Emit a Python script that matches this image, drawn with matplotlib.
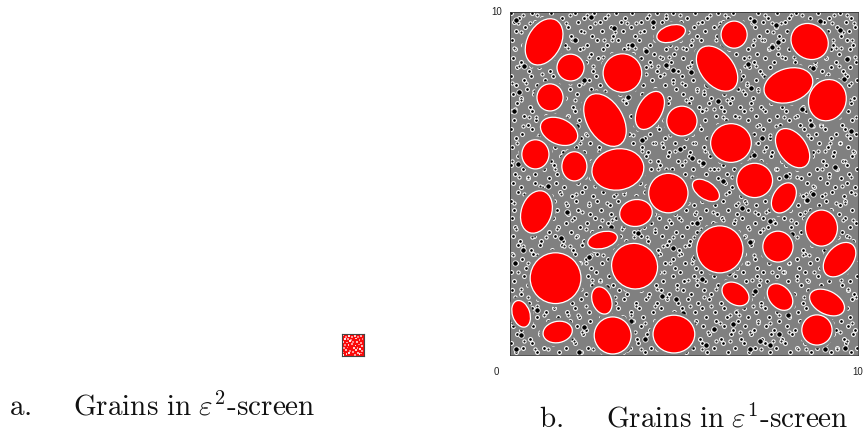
import matplotlib
matplotlib.use('Agg')
import matplotlib.pyplot as plt
from matplotlib.patches import Ellipse

plt.rcParams['mathtext.fontset'] = 'cm'

# large grains: centre x, centre y, width, height, angle
big_x = [0.98,1.74,3.23,4.63,6.44,8.61,5.95,8.00,9.12,1.15,2.73,4.02,4.94,1.41,6.35,8.12,0.73,1.85,3.10,4.55,5.63,7.03,7.87,0.76,3.62,8.95,2.66,6.03,7.70,9.47,1.31,3.58,2.64,6.48,7.76,9.11,0.32,1.37,2.95,4.71,8.82]
big_y = [9.13,8.38,8.22,9.37,9.34,9.14,8.35,7.86,7.43,7.51,6.85,7.13,6.82,6.52,6.18,6.03,5.85,5.50,5.41,4.72,4.80,5.09,4.58,4.17,4.14,3.70,3.35,3.08,3.16,2.78,2.24,2.59,1.59,1.78,1.69,1.53,1.20,0.67,0.57,0.61,0.73]
big_w = [1.44,0.78,1.11,0.85,0.75,1.12,1.50,1.44,1.22,0.75,1.67,1.20,0.87,1.13,1.17,1.28,0.78,0.72,1.50,1.13,0.88,1.03,0.95,1.27,0.94,0.92,0.87,1.33,0.87,1.15,1.46,1.30,0.82,0.85,0.87,1.08,0.80,0.85,1.06,1.20,0.87]
big_h = [0.96,0.78,1.12,0.48,0.79,1.00,0.95,0.98,1.07,0.79,1.03,0.70,0.87,0.74,1.13,0.80,0.85,0.85,1.20,1.15,0.50,1.00,0.62,0.87,0.78,1.05,0.48,1.37,0.90,0.75,1.48,1.35,0.55,0.60,0.62,0.67,0.50,0.62,1.08,1.10,0.88]
big_a = [62,0,0,18,0,-40,-52,18,70,0,-60,62,0,-25,0,-55,0,0,10,0,-35,0,60,72,10,0,15,0,0,50,0,40,-70,-35,-50,-28,-72,12,0,0,0]

# small grains, positions in hundredths of a screen unit
row_y = [996,983,970,957,944,931,918,905,892,879,866,853,840,827,814,801,788,775,762,749,736,723,710,697,684,671,658,645,632,619,606,593,580,567,554,541,528,515,502,489,476,463,450,437,424,411,398,385,372,359,346,333,320,307,294,281,268,255,242,229,216,203,190,177,164,151,138,125,112,99,86,73,60,47,34,21,8]
row_x = [
[4,63,118,187,241,306,352,421,467,533,598,641,712,768,823,884,947],
[27,92,149,214,272,331,393,448,509,566,627,689,741,802,861,918,981],
[11,71,133,196,258,318,377,436,491,552,613,668,726,789,847,903,966],
[43,104,167,229,289,347,412,473,528,587,651,704,763,821,878,941,992],
[18,81,139,204,263,324,384,441,503,561,622,679,738,796,857,915,973],
[52,113,176,236,297,359,418,479,537,596,657,716,774,833,889,952],
[6,68,127,189,249,311,371,429,488,548,609,664,729,784,846,906,968],
[36,98,158,221,279,339,401,461,519,578,639,697,752,812,871,929,987],
[14,76,142,201,268,327,389,447,507,569,628,683,744,801,864,922,976],
[47,109,171,233,292,353,414,472,534,592,649,711,769,827,884,944],
[8,66,128,193,253,314,376,437,496,554,618,672,733,791,853,909,971],
[33,94,156,217,281,342,403,463,523,583,641,701,759,818,876,936,993],
[19,83,146,207,266,329,391,451,512,571,631,688,747,806,862,921,978],
[54,116,178,239,301,362,423,482,541,602,659,719,779,838,896,956],
[3,61,124,186,247,309,368,431,493,551,612,669,731,788,849,911,969],
[39,101,163,226,286,347,408,468,527,589,647,706,766,823,882,943,996],
[16,78,137,199,259,322,382,444,504,563,624,681,741,799,859,917,974],
[49,111,173,232,294,356,417,477,536,597,654,714,772,831,891,949],
[9,69,131,192,254,316,379,438,498,557,616,676,736,793,852,913,966],
[31,96,159,219,276,337,398,458,521,579,637,699,757,814,873,934,989],
[21,86,144,209,271,332,394,453,514,573,633,692,749,808,867,926,981],
[58,119,181,241,304,364,426,486,544,606,662,722,782,841,899,958],
[5,64,126,188,251,313,373,433,491,553,614,673,734,794,851,908,971],
[41,103,166,228,288,349,411,471,531,591,646,708,768,826,886,946],
[12,74,136,197,261,319,381,442,501,561,621,684,743,803,861,919,984],
[53,114,174,237,298,358,419,478,539,599,656,716,776,834,893,953],
[2,62,122,184,246,308,369,428,489,549,609,667,728,787,846,904,963],
[34,97,157,218,278,341,402,462,522,581,642,702,761,819,878,938,994],
[17,79,141,203,264,326,387,446,506,566,626,686,746,804,864,923,977],
[46,107,169,231,293,354,416,474,533,593,652,712,771,829,888,948],
[7,67,129,191,256,317,378,439,499,558,619,678,737,797,856,914,972],
[29,91,153,214,274,336,397,457,517,576,636,696,754,813,872,931,988],
[23,84,147,211,269,333,392,454,513,574,634,691,751,811,869,927,982],
[56,117,179,243,303,363,424,484,543,604,661,721,781,839,898,957],
[4,65,125,187,248,312,372,432,494,552,611,671,732,792,848,907,967],
[38,99,161,223,284,344,406,466,526,586,644,706,764,824,883,941,997],
[13,73,134,198,257,321,383,443,502,562,623,682,739,801,858,916,975],
[51,112,172,234,296,357,421,481,538,598,658,717,773,836,892,951],
[8,71,132,194,252,315,374,436,497,556,617,677,735,795,854,912,969],
[32,93,154,216,277,338,399,459,518,577,638,698,756,816,874,933,991],
[22,82,143,206,267,328,388,449,511,568,629,687,748,809,866,924,979],
[57,118,177,238,299,361,422,483,542,601,663,723,783,842,897,959],
[3,66,127,189,249,311,371,434,492,551,613,674,733,789,851,909,964],
[42,102,164,227,287,348,409,469,529,588,648,707,767,828,887,947],
[11,72,135,196,262,323,385,445,505,564,625,685,744,805,863,922,983],
[48,108,168,229,291,352,413,473,532,594,653,713,771,832,889,945],
[6,63,123,183,244,306,367,427,487,547,608,666,727,786,844,902,962],
[37,98,162,222,283,343,404,464,524,584,643,703,762,822,881,939,995],
[15,77,138,201,258,324,386,447,508,567,627,683,742,807,865,925,976],
[53,113,175,236,297,355,418,476,537,596,655,718,775,835,894,954],
[9,68,128,192,255,316,376,437,495,555,615,675,737,794,853,911,968],
[28,89,151,213,273,334,396,456,516,575,635,694,753,812,871,932,986],
[24,87,148,208,272,331,393,452,515,572,632,693,752,811,868,928,981],
[59,121,182,242,302,366,425,485,546,603,664,724,784,843,901,961],
[5,67,126,186,251,313,373,431,491,553,612,672,731,791,849,906,971],
[35,96,159,219,282,342,403,467,525,585,645,704,763,825,882,942,993],
[16,76,139,202,263,325,384,444,503,565,622,681,743,802,862,919,974],
[46,106,167,233,292,351,415,475,534,591,651,711,772,831,891,949],
[2,61,124,185,246,309,368,429,489,548,607,669,726,788,847,905,966],
[39,101,165,224,285,346,407,468,528,587,647,709,766,826,884,943,998],
[12,74,133,197,259,319,381,441,501,559,621,679,739,798,857,916,978],
[51,111,173,235,295,356,419,479,538,599,659,715,777,837,895,955],
[7,69,129,191,253,314,377,435,498,557,618,676,735,796,855,913,972],
[31,92,155,217,276,337,398,458,519,579,639,699,758,817,875,935,989],
[19,81,145,205,268,329,391,451,511,571,631,689,749,808,867,926,983],
[55,116,178,239,301,362,423,482,541,605,661,722,781,841,899,958],
[4,64,125,188,248,311,372,433,493,552,614,673,733,792,851,908,969],
[41,103,163,226,288,349,411,471,531,589,649,708,768,828,886,946],
[14,78,137,199,261,322,383,443,504,563,624,684,744,803,861,921,977],
[47,109,171,231,294,353,416,474,535,593,654,713,773,832,891,951],
[8,66,131,193,254,317,375,438,496,556,616,674,736,795,854,912,971],
[33,95,156,218,279,341,401,461,522,582,641,701,759,819,877,937,992],
[21,85,146,209,269,332,394,454,513,573,634,692,751,809,869,927,985],
[58,119,179,241,304,364,426,486,545,606,663,723,783,843,898,959],
[3,62,123,187,247,308,369,431,492,551,611,671,732,789,849,907,965],
[36,98,161,223,283,344,405,465,527,586,646,705,764,824,883,941,996],
[17,79,141,203,265,326,387,448,507,567,627,686,746,806,864,923,979],
]

# more small grains filling the gaps, less regular than the rows above
fill_y = [992,968,941,917,894,868,843,818,792,771,744,718,693,667,642,618,594,567,543,519,493,468,442,418,393,368,344,318,293,268,243,218,192,168,143,118,93,68,42,17]
fill_x = [
[38,79,171,222,281,398,447,489,574,619,733,807,838,931,968],
[22,57,161,243,337,361,462,541,603,694,752,778,893,924,988],
[33,96,121,213,303,373,458,512,644,663,757,843,871,957],
[71,146,178,271,292,416,524,592,702,723,814,897,928,982],
[12,52,168,209,338,358,476,497,588,651,743,769,868,936,952],
[84,117,226,267,349,432,456,546,631,688,781,816,906,991],
[26,59,153,238,283,406,426,518,606,674,708,833,877,946],
[92,134,193,312,391,443,563,584,723,758,792,859,913,962],
[7,46,173,211,298,366,469,493,601,636,681,829,851,981],
[68,104,247,274,343,421,538,557,669,714,804,889,933],
[31,89,152,186,324,397,452,507,624,748,777,866,958,976],
[14,123,206,289,362,431,564,587,693,727,841,902,926],
[56,76,164,243,307,384,478,516,612,658,786,818,944,993],
[37,101,138,268,296,408,447,543,636,709,764,872,893],
[84,181,222,333,353,461,497,581,604,746,821,857,968],
[19,63,147,202,284,412,438,526,678,697,791,838,919,949],
[44,116,163,257,319,378,473,559,627,729,773,884,906,987],
[7,94,196,233,346,403,502,543,662,688,812,849,964],
[72,129,178,281,302,426,449,576,598,741,768,897,938],
[27,53,154,216,337,364,487,523,637,716,802,826,918,979],
[86,108,243,262,391,416,541,562,673,693,783,872,953],
[39,146,189,304,329,446,478,597,621,747,829,851,906,991],
[11,68,161,228,278,359,407,512,654,679,768,792,938,964],
[93,123,207,341,383,429,534,582,703,736,848,881,923],
[44,58,179,264,293,458,491,611,647,757,807,957,986],
[18,82,136,218,323,371,418,549,573,688,726,862,903],
[63,104,191,249,356,394,468,528,633,671,789,826,943,974],
[36,154,173,286,312,441,503,597,618,743,768,883,918],
[8,77,128,233,267,376,426,486,553,702,726,841,859,961],
[51,96,199,218,338,403,461,522,661,683,803,897,938,984],
[24,143,163,291,316,443,574,603,639,752,784,873,926],
[69,111,236,258,369,387,511,537,694,718,826,853,951],
[33,92,176,203,331,421,481,593,628,673,768,908,972],
[13,52,144,272,303,396,452,558,646,737,794,846,886,993],
[78,126,219,241,362,418,516,579,699,722,812,931,957],
[31,99,168,196,283,347,476,498,633,658,774,866,897],
[6,59,143,251,323,388,443,533,604,713,746,838,924,982],
[86,117,207,276,359,412,492,569,662,689,803,871,947],
[41,154,184,297,336,458,527,591,632,757,778,913,968],
[22,73,109,238,263,377,423,506,552,693,722,827,852,941],
]

# the bigger black grains
dot_x = [18,64,123,187,233,298,351,412,473,538,604,655,702,763,834,892,947,41,148,271,392,447,521,612,684,752,871,968,27,86,213,338,468,567,662,771,903,11,127,254,431,496,598,693,838,961,53,192,317,378,522,641,724,866,934,22,108,243,488,556,611,701,794,872,981,67,164,289,421,538,667,748,853,916,38,147,226,369,467,592,689,809,947,14,96,278,414,531,628,764,887,973,58,181,326,476,553,653,703,798,921,31,124,212,388,498,587,717,842,963,78,259,347,438,562,642,773,876,948,17,118,198,336,459,521,691,747,906]
dot_y = [978,931,963,919,985,954,904,972,941,887,956,918,973,962,902,975,948,843,871,852,887,846,826,903,849,897,838,864,768,781,803,752,831,786,804,912,734,712,624,681,764,716,741,779,718,806,618,668,602,628,573,657,634,672,548,558,492,534,602,561,508,583,522,468,654,392,418,372,456,386,428,391,452,401,306,341,287,355,312,378,328,354,289,268,212,198,252,286,238,211,193,271,122,174,108,163,221,144,186,118,138,58,34,82,46,122,76,42,94,21,132,64,98,172,28,91,61,38,158,18,74,9,18,28,52,18,30,18]

# speckles of the tiny copy on the left, same 0-10 screen units
spot_x = [0.6,1.9,3.1,4.4,5.8,7.2,8.7,1.2,2.6,4.0,6.5,8.0,9.3,0.5,2.2,3.5,5.1,6.9,8.5,1.4,3.0,4.7,6.1,7.6,9.2,0.9,2.5,5.5,7.0,8.3,1.8,3.8,6.3,9.0,0.7,3.3,4.9,7.4,8.8,2.0,5.9,7.9,0.4]
spot_y = [9.3,8.7,9.1,8.5,9.2,8.6,9.0,7.6,7.8,7.2,7.9,7.3,7.7,6.4,6.1,6.7,6.2,6.5,6.0,5.1,4.9,5.4,4.8,5.2,4.7,3.7,3.9,3.5,3.8,3.3,2.6,2.3,2.8,2.4,1.6,1.3,1.8,1.5,1.1,0.8,0.6,0.9,0.4]
spot_a = [0.7,0.5,0.9,0.6,0.8,0.5,0.7,0.9,0.6,0.5,0.8,0.6,0.5,0.8,0.6,0.9,0.5,0.7,0.6,0.5,0.8,0.6,0.9,0.5,0.7,0.6,0.5,0.8,0.6,0.9,0.7,0.5,0.8,0.6,0.5,0.9,0.6,0.7,0.5,0.8,0.6,0.9,1.0]

W, H = 864, 434

def px_axes(x0, y0, x1, y1):
    # axes from pixel box, y measured from the top of the picture
    return fig.add_axes([x0/W, 1-y1/H, (x1-x0)/W, (y1-y0)/H])

def flatten(ys, rows):
    xs_out = []
    ys_out = []
    for y, row in zip(ys, rows):
        for x in row:
            xs_out.append(x/100)
            ys_out.append(y/100)
    return xs_out, ys_out

fig = plt.figure(figsize=(8.64, 4.34), dpi=100)

ax = px_axes(510, 12, 858, 355)
ax.set_xlim(0, 10)
ax.set_ylim(0, 10)
ax.set_xticks([])
ax.set_yticks([])
ax.set_facecolor('#808080')
for s in ax.spines.values():
    s.set_linewidth(0.6)
    s.set_color('#333333')

xs, ys = flatten(row_y, row_x)
ax.scatter(xs, ys, s=7.5, c='black', edgecolors='white', linewidths=0.8, zorder=1)
xs, ys = flatten(fill_y, fill_x)
ax.scatter(xs, ys, s=5.5, c='#202020', edgecolors='white', linewidths=0.75, zorder=1.5)
ax.scatter([x/100 for x in dot_x], [y/100 for y in dot_y], s=15, c='black',
           edgecolors='white', linewidths=0.6, zorder=2)

for x, y, w, h, a in zip(big_x, big_y, big_w, big_h, big_a):
    # grey gap that surrounds each large grain
    ax.add_patch(Ellipse((x, y), w+0.2, h+0.2, angle=a, fc='#808080', ec='none', zorder=3))
    ax.add_patch(Ellipse((x, y), w, h, angle=a, fc='red', ec='white', lw=0.9, zorder=4))

small = px_axes(342, 334, 364, 356)
small.set_xlim(0, 10)
small.set_ylim(0, 10)
small.set_xticks([])
small.set_yticks([])
small.set_facecolor('#fb0a0a')
for s in small.spines.values():
    s.set_linewidth(0.8)
    s.set_color('#444444')
small.scatter(spot_x, spot_y, s=1.6, marker='s', c='white', alpha=spot_a, linewidths=0)

# tick labels of the right panel
tick_font = dict(family='Liberation Sans', fontsize=7, color='#222222', va='center')
fig.text(497/W, 1-12/H, '10', ha='center', **tick_font)
fig.text(496/W, 1-372/H, '0', ha='center', **tick_font)
fig.text(863/W, 1-372/H, '10', ha='right', **tick_font)

# captions
fs = 21
fig.text(9/W, 1-415/H, r'$\mathrm{a.}$', fontsize=fs, color='#111111')
fig.text(73/W, 1-415/H, r'$\mathrm{Grains\ in\ }\varepsilon^{2}\text{-}\mathrm{screen}$', fontsize=fs, color='#111111')
fig.text(539/W, 1-427/H, r'$\mathrm{b.}$', fontsize=fs, color='#111111')
fig.text(606/W, 1-427/H, r'$\mathrm{Grains\ in\ }\varepsilon^{1}\text{-}\mathrm{screen}$', fontsize=fs, color='#111111')

fig.savefig('out.png', dpi=100)
